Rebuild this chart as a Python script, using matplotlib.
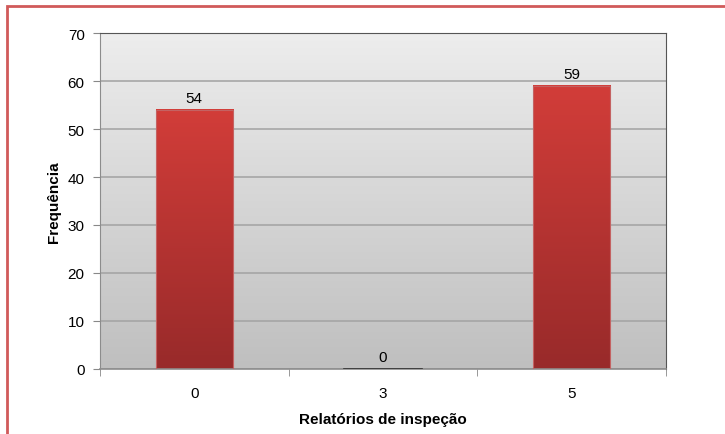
import numpy as np
import matplotlib.pyplot as plt
from matplotlib.colors import LinearSegmentedColormap
from matplotlib.patches import Rectangle

categorias = ["0", "3", "5"]
frequencias = [54, 0, 59]
yticks = [0, 10, 20, 30, 40, 50, 60, 70]

plt.rcParams['font.family'] = ['Liberation Sans', 'DejaVu Sans']

fig = plt.figure(figsize=(7.25, 4.35), dpi=100)
ax = fig.add_axes([100 / 725, 1 - 370 / 435, 566 / 725, 336 / 435])

x = np.arange(len(categorias))
ax.set_xlim(-0.5, len(categorias) - 0.5)
ax.set_ylim(0, 70)

# fundo em degradê
fundo = LinearSegmentedColormap.from_list("fundo", ["#bfbfbf", "#ededed"])
grad = np.linspace(0, 1, 256).reshape(-1, 1)
ax.imshow(grad, cmap=fundo, aspect="auto", origin="lower",
          extent=[-0.5, len(categorias) - 0.5, 0, 70], zorder=0)

ax.set_yticks(yticks)
ax.grid(axis="y", color="#a2a2a2", linewidth=1.1, zorder=1)
ax.set_axisbelow(True)

barras = ax.bar(x, frequencias, width=0.41, facecolor="none",
                edgecolor="#c46262", linewidth=0.8, zorder=3)
cores_barra = LinearSegmentedColormap.from_list("barra", ["#982a2a", "#d23d39"])
for b, v in zip(barras, frequencias):
    h = b.get_height()
    if h > 0:
        ax.imshow(grad, cmap=cores_barra, aspect="auto", origin="lower",
                  extent=[b.get_x(), b.get_x() + b.get_width(), 0, h], zorder=2)
    else:
        ax.plot([b.get_x(), b.get_x() + b.get_width()], [0, 0],
                color="#333333", linewidth=1.2, zorder=3)
    ax.text(b.get_x() + b.get_width() / 2, h + 1.0, str(v),
            ha="center", va="bottom", fontsize=11)

ax.set_xticks(x)
ax.set_xticklabels(categorias)
ax.set_xticks([-0.5, 0.5, 1.5, 2.5], minor=True)
ax.tick_params(axis="x", which="major", length=0, labelsize=11, pad=12)
ax.tick_params(axis="x", which="minor", length=5, color="#888888")
ax.tick_params(axis="y", length=5, color="#888888", labelsize=11, pad=6)

for s in ["left", "bottom"]:
    ax.spines[s].set_color("#8c8c8c")
for s in ["top", "right"]:
    ax.spines[s].set_color("#555555")
ax.spines["bottom"].set_linewidth(1.2)

ax.set_xlabel("Relatórios de inspeção", fontsize=11, fontweight="bold", labelpad=9)
ax.set_ylabel("Frequência", fontsize=11, fontweight="bold", labelpad=5)

# moldura vermelha
fig.patches.append(Rectangle((7 / 725, -0.1), 1.0, 1 - 7 / 435 + 0.1,
                             transform=fig.transFigure, fill=False,
                             edgecolor="#d05a5a", linewidth=2))

fig.savefig("out.png", dpi=100)
